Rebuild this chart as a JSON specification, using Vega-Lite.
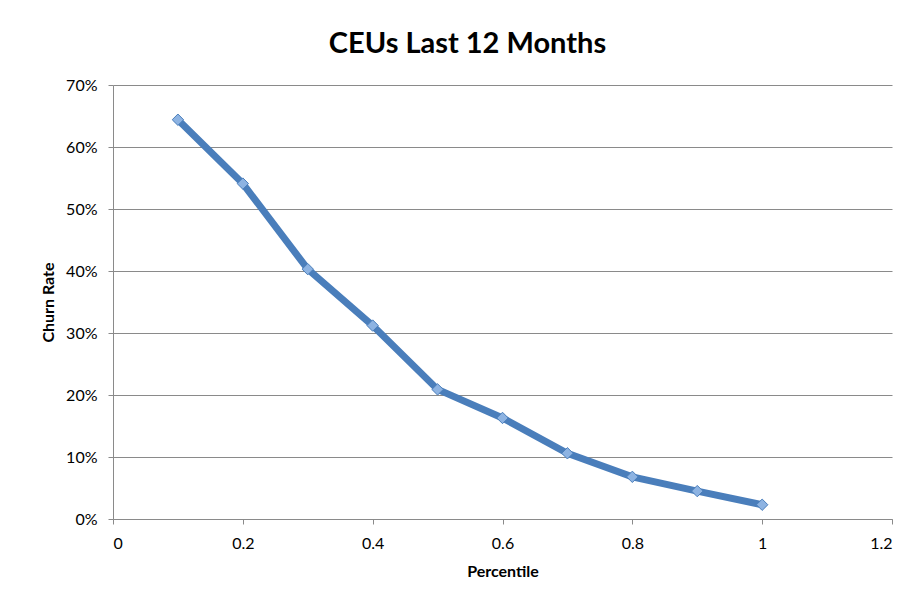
{
  "$schema": "https://vega.github.io/schema/vega-lite/v6.json",
  "width": 779,
  "height": 434,
  "autosize": "none",
  "padding": {"left": 113, "top": 85, "right": 26, "bottom": 88},
  "background": "white",
  "title": {
    "text": "CEUs Last 12 Months",
    "font": "Lato",
    "fontSize": 29,
    "fontWeight": "bold",
    "color": "#000000",
    "anchor": "middle",
    "dx": -35,
    "offset": 18
  },
  "data": {
    "values": [
      {"percentile": 0.1, "churn": 0.644},
      {"percentile": 0.2, "churn": 0.541},
      {"percentile": 0.3, "churn": 0.403},
      {"percentile": 0.4, "churn": 0.312},
      {"percentile": 0.5, "churn": 0.209},
      {"percentile": 0.6, "churn": 0.163},
      {"percentile": 0.7, "churn": 0.106},
      {"percentile": 0.8, "churn": 0.068},
      {"percentile": 0.9, "churn": 0.045},
      {"percentile": 1.0, "churn": 0.023}
    ]
  },
  "encoding": {
    "x": {
      "field": "percentile",
      "type": "quantitative",
      "scale": {"domain": [0, 1.2], "nice": false, "zero": true},
      "axis": {
        "title": "Percentile",
        "values": [0, 0.2, 0.4, 0.6, 0.8, 1, 1.2],
        "format": "~g",
        "grid": false,
        "labelFont": "Lato",
        "labelFontSize": 16,
        "labelColor": "#000000",
        "labelPadding": 11,
        "titleFont": "Lato",
        "titleFontSize": 16,
        "titleFontWeight": "bold",
        "titleColor": "#000000",
        "titlePadding": 12,
        "domainColor": "#8a8a8a",
        "tickColor": "#8a8a8a",
        "tickSize": 5
      }
    },
    "y": {
      "field": "churn",
      "type": "quantitative",
      "scale": {"domain": [0, 0.7], "nice": false},
      "axis": {
        "title": "Churn Rate",
        "values": [0, 0.1, 0.2, 0.3, 0.4, 0.5, 0.6, 0.7],
        "format": ".0%",
        "grid": true,
        "gridColor": "#8a8a8a",
        "gridWidth": 1,
        "labelFont": "Lato",
        "labelFontSize": 16,
        "labelColor": "#000000",
        "labelPadding": 11,
        "titleFont": "Lato",
        "titleFontSize": 16,
        "titleFontWeight": "bold",
        "titleColor": "#000000",
        "titlePadding": 9,
        "domainColor": "#8a8a8a",
        "tickColor": "#8a8a8a",
        "tickSize": 5
      }
    }
  },
  "layer": [
    {
      "mark": {"type": "line", "color": "#4a7ebb", "strokeWidth": 7}
    },
    {
      "mark": {
        "type": "point",
        "shape": "diamond",
        "filled": true,
        "size": 130,
        "fill": "#8db3e2",
        "stroke": "#4a7ebb",
        "strokeWidth": 1,
        "opacity": 1
      }
    }
  ],
  "config": {
    "view": {"stroke": null}
  }
}
